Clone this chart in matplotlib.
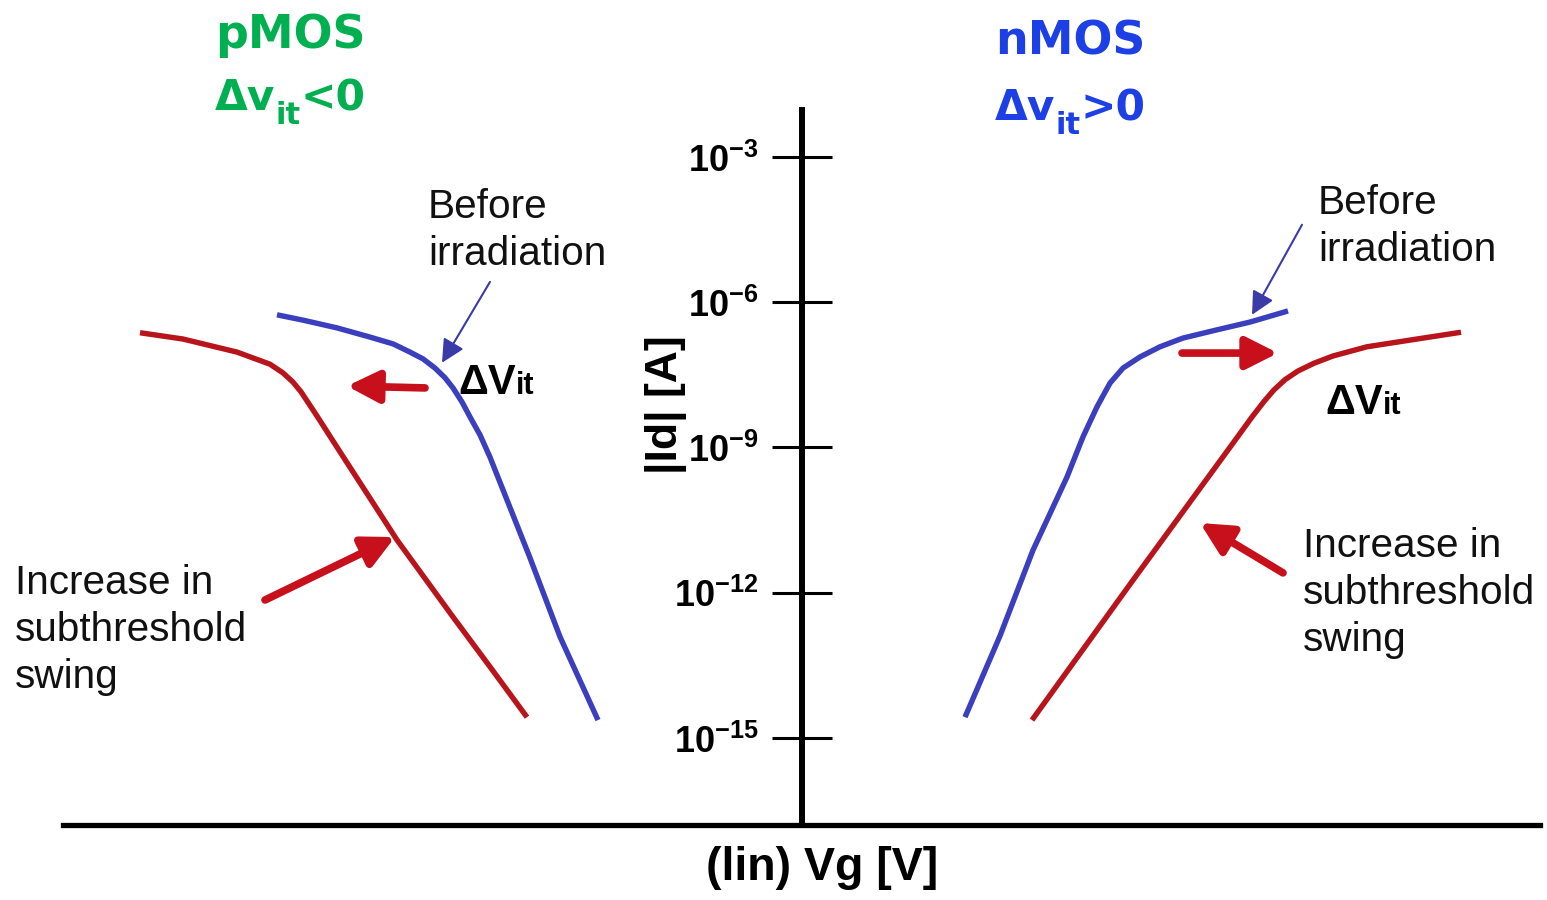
import matplotlib
matplotlib.use("Agg")
import matplotlib.pyplot as plt

plt.rcParams['mathtext.fontset'] = 'custom'
plt.rcParams['mathtext.rm'] = 'Liberation Sans:bold'
plt.rcParams['mathtext.it'] = 'Liberation Sans:bold'
plt.rcParams['mathtext.bf'] = 'Liberation Sans:bold'

# gate voltage (arbitrary lin units) and log10 |Id|
p_before_vg = [-5.25, -4.99, -4.65, -4.32, -4.09, -3.92, -3.79, -3.67, -3.57, -3.49,
               -3.40, -3.32, -3.22, -3.12, -2.72, -2.42, -2.04]
p_before_logi = [-6.26, -6.37, -6.53, -6.72, -6.86, -7.03, -7.17, -7.36, -7.56, -7.77,
                 -8.06, -8.37, -8.74, -9.20, -11.28, -12.91, -14.63]

p_after_vg = [-6.62, -6.19, -5.65, -5.32, -5.19, -5.09, -5.01, -4.93, -4.85, -4.62,
              -4.05, -3.49, -3.12, -2.75]
p_after_logi = [-6.63, -6.76, -7.03, -7.28, -7.46, -7.65, -7.85, -8.10, -8.35, -9.09,
                -10.91, -12.50, -13.53, -14.57]

n_before_vg = [1.63, 1.98, 2.31, 2.65, 2.81, 2.95, 3.08, 3.21, 3.38, 3.58, 3.81, 4.15, 4.48, 4.86]
n_before_logi = [-14.57, -12.89, -11.12, -9.61, -8.78, -8.16, -7.67, -7.36, -7.13, -6.92,
                 -6.74, -6.57, -6.41, -6.18]

n_after_vg = [2.30, 3.31, 4.31, 4.50, 4.62, 4.72, 4.83, 4.96, 5.12, 5.31, 5.65, 6.15, 6.59]
n_after_logi = [-14.63, -11.74, -8.91, -8.37, -8.05, -7.81, -7.60, -7.42, -7.26, -7.11,
                -6.92, -6.76, -6.62]

decades = [-3, -6, -9, -12, -15]
decade_labels = [r"$10^{%d}$" % d for d in decades]

blue = "#3b3fbd"
red = "#b8141c"
arrow_red = "#c80f1c"
thin_blue = "#3a3aa8"
green = "#00b050"
title_blue = "#1d3fe6"

fig = plt.figure(figsize=(15.47, 9), dpi=100)
ax = fig.add_axes([0, 0, 1, 1])
ax.set_xlim(-8.02, 7.45)
ax.set_ylim(-18.346, 0.242)

# axes drawn as crossing spines
for s in ["top", "right"]:
    ax.spines[s].set_visible(False)
ax.spines["left"].set_position(("data", 0))
ax.spines["left"].set_bounds(-16.8, -2.03)
ax.spines["left"].set_linewidth(4.3)
ax.spines["bottom"].set_position(("data", -16.8))
ax.spines["bottom"].set_bounds(-7.39, 7.38)
ax.spines["bottom"].set_linewidth(3.8)

ax.set_xticks([])
ax.set_yticks(decades)
ax.set_yticklabels(decade_labels)
ax.tick_params(axis="y", direction="inout", length=43, width=2.2, pad=10, labelsize=26)

ax.set_ylabel("|Id| [A]", fontsize=32, fontweight="bold", family="Liberation Sans")
ax.yaxis.set_label_coords(687 / 1547, 1 - 405 / 900)
ax.set_xlabel("(lin) Vg [V]", fontsize=33.5, fontweight="bold", family="Liberation Sans")
ax.xaxis.set_label_coords(822 / 1547, 1 - 846 / 900)

# curves
line = dict(lw=3.9, solid_capstyle="butt", solid_joinstyle="round")
ax.plot(p_before_vg, p_before_logi, color=blue, **line)
ax.plot(p_after_vg, p_after_logi, color=red, **line)
ax.plot(n_before_vg, n_before_logi, color=blue, **line)
ax.plot(n_after_vg, n_after_logi, color=red, **line)

# red arrows
red_arrow = dict(arrowstyle="-|>,head_length=0.95,head_width=0.48", lw=5.5, color=arrow_red,
                 mutation_scale=20, shrinkA=0, shrinkB=0)
ax.annotate("", xy=(-4.55, -7.73), xytext=(-3.77, -7.77), arrowprops=red_arrow)
ax.annotate("", xy=(-4.07, -10.85), xytext=(-5.37, -12.15), arrowprops=red_arrow)
ax.annotate("", xy=(4.76, -7.05), xytext=(3.80, -7.05), arrowprops=red_arrow)
ax.annotate("", xy=(3.98, -10.56), xytext=(4.81, -11.59), arrowprops=red_arrow)

# thin pointer arrows
thin_arrow = dict(arrowstyle="-|>,head_length=1.0,head_width=0.5", lw=1.5, color=thin_blue,
                  mutation_scale=14, shrinkA=0, shrinkB=0)
ax.annotate("", xy=(-3.60, -7.25), xytext=(-3.12, -5.58), arrowprops=thin_arrow)
ax.annotate("", xy=(4.50, -6.26), xytext=(5.00, -4.40), arrowprops=thin_arrow)

txt = dict(fontsize=29.2, family="Liberation Sans", color="#111111", linespacing=1.3)
ax.text(-3.74, -4.51, "Before\nirradiation", va="center", ha="left", **txt)
ax.text(5.16, -4.43, "Before\nirradiation", va="center", ha="left", **txt)
ax.text(-7.87, -12.77, "Increase in\nsubthreshold\nswing", va="center", ha="left", **txt)
ax.text(5.01, -12.00, "Increase in\nsubthreshold\nswing", va="center", ha="left", **txt)


def delta_v(x, y):
    t1 = ax.text(x, y, "ΔV", fontsize=30, fontweight="bold", family="Liberation Sans",
                 va="baseline", ha="left")
    ax.annotate("it", xy=(1, y), xycoords=(t1, "data"), xytext=(0, 0),
                textcoords="offset points", fontsize=22, fontweight="bold",
                family="Liberation Sans", va="baseline", ha="left")


delta_v(-3.44, -7.90)
delta_v(5.23, -8.30)


def title(x, y1, y2, name, sign, color):
    font = dict(fontweight="bold", family="DejaVu Sans", color=color, va="baseline", ha="left")
    ax.text(x, y1, name, fontsize=33, **font)
    t1 = ax.text(x, y2, "Δv", fontsize=30.5, **font)
    t2 = ax.annotate("it", xy=(1, y2), xycoords=(t1, "data"), xytext=(0, -10),
                     textcoords="offset points", fontsize=22, **font)
    ax.annotate(sign, xy=(1, y2), xycoords=(t2, "data"), xytext=(0, 0),
                textcoords="offset points", fontsize=30.5, **font)


title(-5.87, -0.75, -2.03, "pMOS", "<0", green)
title(1.93, -0.89, -2.24, "nMOS", ">0", title_blue)

fig.savefig("out.png", dpi=100)
